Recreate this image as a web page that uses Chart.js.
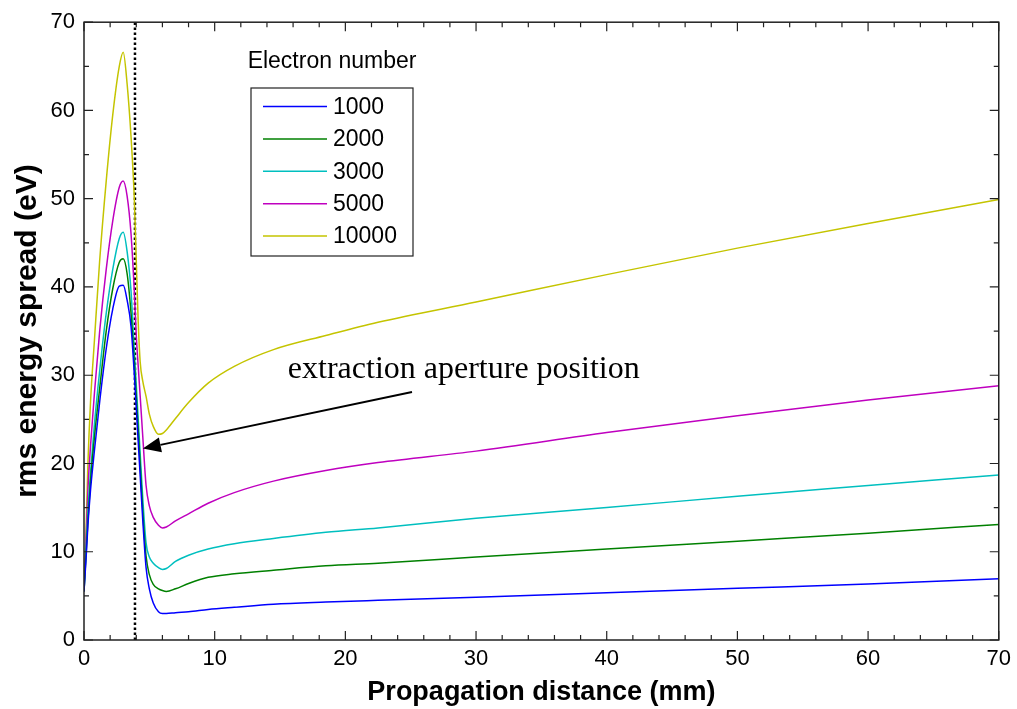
<!DOCTYPE html>
<html>
<head>
<meta charset="utf-8">
<title>rms energy spread</title>
<script src="https://cdn.jsdelivr.net/npm/chart.js@4.4.1/dist/chart.umd.min.js"></script>
<style>
  html, body { margin: 0; padding: 0; background: #fff; }
  #wrap { width: 1017px; height: 709px; }
</style>
</head>
<body>
<div id="wrap"><canvas id="spreadChart" width="1017" height="709"></canvas></div>
<script>
// propagation distance (mm), shared by every series
const distance = [0, 0.15, 0.3, 0.5, 0.8, 1.2, 1.7, 2.2, 2.7, 3.0, 3.3, 3.6, 3.85, 4.0, 4.15, 4.3, 4.5, 4.75, 5.0, 5.3,
                  5.7, 6.0, 6.3, 7.0, 8.0, 9.5, 11.5, 14.5, 18.5, 22.5, 30, 40, 50, 60, 70];

// rms energy spread (eV) per electron number
const spread1000  = [5.5, 9, 13, 17, 21.5, 27, 33, 37.5, 40.1, 40.2, 38.5, 35.5, 30.1, 26.3, 22.4, 18.6, 13.5, 8.2, 5.8, 4.2,
                     3.2, 3.0, 3.0, 3.1, 3.2, 3.45, 3.7, 4.05, 4.3, 4.5, 4.85, 5.35, 5.85, 6.35, 6.95];
const spread2000  = [5.5, 9.5, 13.5, 18, 23, 28.5, 35, 39.8, 42.8, 43.2, 41.5, 37, 31.4, 27.6, 23.7, 19.9, 14.5, 9.5, 7.4, 6.3,
                     5.8, 5.6, 5.5, 5.8, 6.4, 7.1, 7.5, 7.9, 8.4, 8.7, 9.4, 10.3, 11.2, 12.1, 13.1];
const spread3000  = [5.5, 10, 14.5, 19, 24.5, 30.5, 37, 42, 45.5, 46.2, 44, 39.5, 32.7, 28.9, 25, 21.1, 16, 11, 9.4, 8.7,
                     8.2, 8.0, 8.1, 8.9, 9.6, 10.3, 10.9, 11.5, 12.2, 12.7, 13.8, 15.0, 16.3, 17.5, 18.7];
const spread5000  = [6, 11, 17, 22, 28, 35, 42, 47.5, 51.3, 52, 50.3, 46, 39.5, 34.5, 31, 27.6, 23, 17.5, 15.2, 13.9,
                     13.0, 12.7, 12.8, 13.5, 14.3, 15.5, 16.7, 18.0, 19.2, 20.1, 21.4, 23.5, 25.4, 27.2, 28.8];
const spread10000 = [6, 12, 20, 27, 34, 43, 52, 59.5, 65, 66.6, 63, 57, 50, 43, 36, 31.5, 29.3, 27.6, 25.6, 24.2,
                     23.3, 23.4, 23.8, 25.1, 26.9, 29.1, 31.0, 32.9, 34.5, 36.0, 38.3, 41.4, 44.4, 47.2, 49.9];

const electronNumbers = ['1000', '2000', '3000', '5000', '10000'];
const seriesColors = ['#0000ff', '#008000', '#00bfbf', '#bf00bf', '#c4c400'];

// extraction aperture (dotted line) and annotation arrow, in data units
const apertureX = 3.9;
const arrowTail = [25.1, 28.1];
const arrowTip = [4.5, 21.7];
const labelAt = [15.6, 29.7];

const xTicks = [0, 10, 20, 30, 40, 50, 60, 70];
const yTicks = [0, 10, 20, 30, 40, 50, 60, 70];

function toPoints(ys) {
    return distance.map((x, i) => ({ x: x, y: ys[i] }));
}

const allSeries = [spread1000, spread2000, spread3000, spread5000, spread10000];

const datasets = allSeries.map((ys, i) => ({
    label: electronNumbers[i],
    data: toPoints(ys),
    borderColor: seriesColors[i],
    borderWidth: 1.5,
    pointRadius: 0,
    cubicInterpolationMode: 'monotone',
    fill: false
}));

datasets.push({
    label: 'aperture',
    data: [{ x: apertureX, y: yTicks[0] }, { x: apertureX, y: yTicks[yTicks.length - 1] }],
    borderColor: '#000',
    borderWidth: 2.5,
    borderDash: [2.5, 2.5],
    pointRadius: 0
});

const SANS = '"Liberation Sans", Arial, sans-serif';

// frame, inward ticks, legend box and the aperture note
const decorations = {
    id: 'decorations',
    afterDatasetsDraw(chart) {
        const ctx = chart.ctx;
        const a = chart.chartArea;
        const xs = chart.scales.x, ys = chart.scales.y;
        ctx.save();

        // box
        ctx.strokeStyle = '#222';
        ctx.lineWidth = 1.5;
        ctx.strokeRect(a.left, a.top, a.right - a.left, a.bottom - a.top);

        // ticks pointing in, on all four sides
        ctx.lineWidth = 1.2;
        ctx.beginPath();
        for (let v = 0; v <= 70; v += 2) {
            const px = xs.getPixelForValue(v);
            const len = v % 10 === 0 ? 9 : 5;
            ctx.moveTo(px, a.bottom); ctx.lineTo(px, a.bottom - len);
            ctx.moveTo(px, a.top); ctx.lineTo(px, a.top + len);
        }
        for (let v = 0; v <= 70; v += 5) {
            const py = ys.getPixelForValue(v);
            const len = v % 10 === 0 ? 9 : 5;
            ctx.moveTo(a.left, py); ctx.lineTo(a.left + len, py);
            ctx.moveTo(a.right, py); ctx.lineTo(a.right - len, py);
        }
        ctx.stroke();

        // legend
        ctx.fillStyle = '#000';
        ctx.font = '23px ' + SANS;
        ctx.textAlign = 'center';
        ctx.textBaseline = 'alphabetic';
        ctx.fillText('Electron number', 332, 68);

        ctx.strokeStyle = '#222';
        ctx.lineWidth = 1.2;
        ctx.strokeRect(251, 88, 162, 168);
        ctx.textAlign = 'left';
        ctx.textBaseline = 'middle';
        for (let i = 0; i < electronNumbers.length; i++) {
            const y = 106.5 + i * 32.4;
            ctx.strokeStyle = seriesColors[i];
            ctx.lineWidth = 1.5;
            ctx.beginPath();
            ctx.moveTo(263, y); ctx.lineTo(327, y);
            ctx.stroke();
            ctx.fillStyle = '#000';
            ctx.fillText(electronNumbers[i], 333, y + 1);
        }

        // annotation text
        ctx.font = '32px "Liberation Serif", "Times New Roman", serif';
        ctx.textAlign = 'left';
        ctx.textBaseline = 'alphabetic';
        ctx.fillText('extraction aperture position', xs.getPixelForValue(labelAt[0]), ys.getPixelForValue(labelAt[1]));

        // arrow
        const x1 = xs.getPixelForValue(arrowTail[0]), y1 = ys.getPixelForValue(arrowTail[1]);
        const x2 = xs.getPixelForValue(arrowTip[0]), y2 = ys.getPixelForValue(arrowTip[1]);
        const ang = Math.atan2(y2 - y1, x2 - x1);
        const headLen = 18, headHalf = 7.5;
        const bx = x2 - headLen * Math.cos(ang), by = y2 - headLen * Math.sin(ang);
        ctx.strokeStyle = '#000';
        ctx.lineWidth = 1.8;
        ctx.beginPath();
        ctx.moveTo(x1, y1); ctx.lineTo(bx, by);
        ctx.stroke();
        ctx.fillStyle = '#000';
        ctx.beginPath();
        ctx.moveTo(x2, y2);
        ctx.lineTo(bx + headHalf * Math.sin(ang), by - headHalf * Math.cos(ang));
        ctx.lineTo(bx - headHalf * Math.sin(ang), by + headHalf * Math.cos(ang));
        ctx.closePath();
        ctx.fill();

        ctx.restore();
    }
};

document.addEventListener('DOMContentLoaded', function() {
    const ctx = document.getElementById('spreadChart').getContext('2d');
    new Chart(ctx, {
        type: 'line',
        data: { datasets: datasets },
        options: {
            responsive: false,
            animation: false,
            devicePixelRatio: 1,
            layout: { padding: { top: 20, right: 17, left: 0, bottom: 0 } },
            plugins: {
                legend: { display: false },
                tooltip: { enabled: false }
            },
            scales: {
                x: {
                    type: 'linear',
                    min: 0,
                    max: 70,
                    afterBuildTicks: s => { s.ticks = xTicks.map(v => ({ value: v })); },
                    afterFit: s => { s.height = 69; },
                    grid: { display: false, drawTicks: false },
                    border: { display: false },
                    ticks: { color: '#000', font: { family: SANS, size: 22 }, padding: 6, maxRotation: 0 },
                    title: {
                        display: true,
                        text: 'Propagation distance (mm)',
                        color: '#000',
                        font: { family: SANS, size: 27, weight: 'bold' },
                        padding: { top: 2, bottom: 0 }
                    }
                },
                y: {
                    type: 'linear',
                    min: 0,
                    max: 70,
                    afterBuildTicks: s => { s.ticks = yTicks.map(v => ({ value: v })); },
                    afterFit: s => { s.width = 84; },
                    grid: { display: false, drawTicks: false },
                    border: { display: false },
                    ticks: { color: '#000', font: { family: SANS, size: 22 }, padding: 9 },
                    title: {
                        display: true,
                        text: 'rms energy spread (eV)',
                        color: '#000',
                        font: { family: SANS, size: 30, weight: 'bold' },
                        padding: { top: 10, bottom: 0 }
                    }
                }
            }
        },
        plugins: [decorations]
    });
});
</script>
</body>
</html>
